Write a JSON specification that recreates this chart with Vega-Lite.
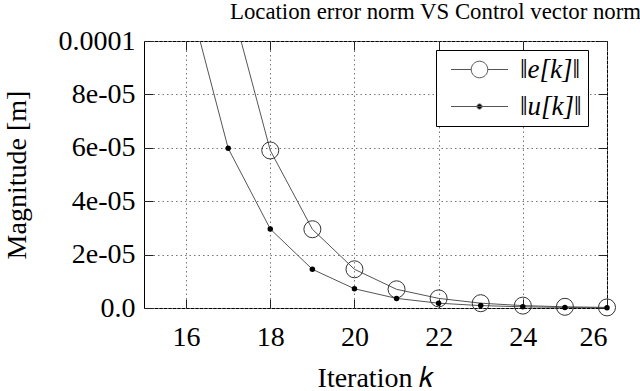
{
  "$schema": "https://vega.github.io/schema/vega-lite/v6.json",
  "autosize": {"type": "none"},
  "width": 463,
  "height": 267,
  "padding": {"left": 144, "top": 41, "right": 33, "bottom": 83},
  "background": "white",
  "config": {
    "font": "Liberation Serif",
    "view": {"stroke": "black", "strokeWidth": 1},
    "axis": {
      "domain": false,
      "grid": true,
      "gridColor": "#777",
      "gridDash": [1.5, 3],
      "gridWidth": 1,
      "ticks": true,
      "tickColor": "#222",
      "tickSize": -9,
      "tickWidth": 1,
      "labelFont": "Liberation Serif",
      "labelFontSize": 28,
      "labelColor": "black",
      "titleFont": "Liberation Serif",
      "titleFontSize": 28,
      "titleFontWeight": "normal",
      "titleColor": "black"
    }
  },
  "title": {
    "text": "Location error norm VS Control vector norm",
    "font": "Liberation Serif",
    "fontSize": 22.8,
    "fontWeight": "normal",
    "color": "black",
    "anchor": "middle",
    "dx": 60,
    "offset": 3
  },
  "data": {
    "values": [
      {"k": 16, "series": "e", "v": 0.000236},
      {"k": 17, "series": "e", "v": 0.000118},
      {"k": 18, "series": "e", "v": 0.0000590},
      {"k": 19, "series": "e", "v": 0.0000295},
      {"k": 20, "series": "e", "v": 0.0000145},
      {"k": 21, "series": "e", "v": 0.0000070},
      {"k": 22, "series": "e", "v": 0.0000036},
      {"k": 23, "series": "e", "v": 0.0000018},
      {"k": 24, "series": "e", "v": 0.0000009},
      {"k": 25, "series": "e", "v": 0.00000045},
      {"k": 26, "series": "e", "v": 0.00000022},
      {"k": 16, "series": "u", "v": 0.000120},
      {"k": 17, "series": "u", "v": 0.0000598},
      {"k": 18, "series": "u", "v": 0.0000296},
      {"k": 19, "series": "u", "v": 0.0000145},
      {"k": 20, "series": "u", "v": 0.0000072},
      {"k": 21, "series": "u", "v": 0.0000036},
      {"k": 22, "series": "u", "v": 0.0000018},
      {"k": 23, "series": "u", "v": 0.0000009},
      {"k": 24, "series": "u", "v": 0.00000045},
      {"k": 25, "series": "u", "v": 0.00000022},
      {"k": 26, "series": "u", "v": 0.00000011}
    ]
  },
  "resolve": {"axis": {"x": "independent", "y": "independent"}},
  "layer": [
    {
      "mark": {"type": "line", "clip": true, "strokeWidth": 1},
      "encoding": {
        "x": {
          "field": "k",
          "type": "quantitative",
          "scale": {"domain": [15, 26], "nice": false, "zero": false},
          "axis": {
            "orient": "bottom",
            "values": [16, 18, 20, 22, 24, 26],
            "title": "Iteration 𝑘",
            "labelPadding": 24,
            "titlePadding": 13
          }
        },
        "y": {
          "field": "v",
          "type": "quantitative",
          "scale": {"domain": [0, 0.0001], "nice": false},
          "axis": {
            "orient": "left",
            "values": [0, 0.00002, 0.00004, 0.00006, 0.00008, 0.0001],
            "labelExpr": "datum.value == 0 ? '0.0' : (datum.value > 0.00009 ? '0.0001' : replace(format(datum.value, '.0e'), 'e-', 'e-0'))",
            "title": "Magnitude [m]",
            "labelPadding": 18,
            "titlePadding": 27
          }
        },
        "stroke": {
          "field": "series",
          "type": "nominal",
          "scale": {"domain": ["e", "u"], "range": ["#555", "#555"]},
          "legend": {
            "orient": "none",
            "legendX": 292,
            "legendY": 9,
            "title": null,
            "strokeColor": "black",
            "fillColor": "white",
            "padding": 6,
            "symbolSize": 400,
            "symbolOffset": 24,
            "labelOffset": 27,
            "rowPadding": 9,
            "labelFont": "Liberation Serif",
            "labelFontSize": 27,
            "labelFontStyle": "italic",
            "labelColor": "black",
            "labelExpr": "datum.value === 'e' ? '‖e[k]‖' : '‖u[k]‖'",
            "encode": {
              "symbols": {
                "update": {
                  "shape": {"signal": "datum.value === 'e' ? 'M-2.85,0L-0.83,0M0.83,0L2.85,0M-0.83,0A0.83,0.83,0,1,0,0.83,0A0.83,0.83,0,1,0,-0.83,0Z' : 'M-2.85,0L2.85,0M-0.25,0A0.25,0.25,0,1,0,0.25,0A0.25,0.25,0,1,0,-0.25,0Z'"},
                  "size": {"value": 400},
                  "fill": {"signal": "datum.value === 'e' ? 'white' : 'black'"},
                  "fillOpacity": {"value": 1},
                  "stroke": {"value": "#333"},
                  "strokeWidth": {"value": 1}
                }
              }
            }
          }
        }
      }
    },
    {
      "transform": [{"filter": "datum.series === 'e' && datum.v <= 0.0001"}],
      "mark": {"type": "point", "clip": false, "shape": "circle", "filled": false, "size": 289, "stroke": "#333", "strokeWidth": 1, "opacity": 1},
      "encoding": {
        "x": {
          "field": "k",
          "type": "quantitative",
          "axis": {
            "orient": "top",
            "values": [16, 18, 20, 22, 24, 26],
            "labels": false,
            "grid": false,
            "title": null
          }
        },
        "y": {
          "field": "v",
          "type": "quantitative",
          "axis": {
            "orient": "right",
            "values": [0, 0.00002, 0.00004, 0.00006, 0.00008, 0.0001],
            "labels": false,
            "grid": false,
            "title": null
          }
        }
      }
    },
    {
      "transform": [{"filter": "datum.series === 'u' && datum.v <= 0.0001"}],
      "mark": {"type": "point", "clip": false, "shape": "circle", "filled": true, "size": 30, "fill": "black", "opacity": 1},
      "encoding": {
        "x": {"field": "k", "type": "quantitative", "axis": null},
        "y": {"field": "v", "type": "quantitative", "axis": null}
      }
    }
  ]
}
